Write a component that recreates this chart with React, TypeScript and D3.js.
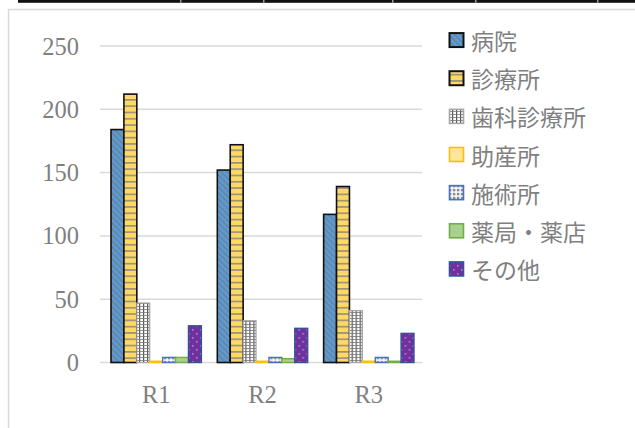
import React from 'react';
import * as d3 from 'd3';

// Facility counts by region
const categories = ['R1', 'R2', 'R3'];
const seriesNames = ['病院', '診療所', '歯科診療所', '助産所', '施術所', '薬局・薬店', 'その他'];
const hospital = [184, 152, 117];
const clinic = [212, 172, 139];
const dental = [47, 33, 41];
const midwife = [1, 1, 1];
const therapy = [4, 4, 4];
const pharmacy = [4, 3, 1];
const other = [29, 27, 23];
const yTicks = [0, 50, 100, 150, 200, 250];

const seriesValues = [hospital, clinic, dental, midwife, therapy, pharmacy, other];

const seriesStyle = [
  { fill: 'url(#pHospital)', stroke: '#111', sw: 1.6 },
  { fill: 'url(#pClinic)', stroke: '#111', sw: 1.6 },
  { fill: 'url(#pDental)', stroke: '#a6a6a6', sw: 1.2 },
  { fill: '#FFE699', stroke: '#FFC000', sw: 1.4 },
  { fill: 'url(#pTherapy)', stroke: '#4472C4', sw: 1.4 },
  { fill: '#A9D18E', stroke: '#70AD47', sw: 1.4 },
  { fill: 'url(#pOther)', stroke: '#2F5597', sw: 1.4 },
];

const W = 635;
const H = 428;
const TEXT = '#7f7f7f';

export default function App() {
  const y = d3.scaleLinear().domain([0, 250]).range([362.5, 46]);
  const x0 = d3.scaleBand().domain(categories).range([102.5, 422.5]).paddingInner(0.15).paddingOuter(0.08);
  const x1 = d3.scaleBand().domain(seriesNames).range([0, x0.bandwidth()]);

  const legendY = d3.scaleBand().domain(seriesNames).range([21, 288]);

  const topSeparators = [180, 263, 392, 475, 597];

  return (
    <div style={{ position: 'fixed', left: 0, top: 0 }}>
      <svg width={W} height={H} style={{ display: 'block', background: '#fff' }}>
        <defs>
          <pattern id="pHospital" patternUnits="userSpaceOnUse" width="6" height="6">
            <rect width="6" height="6" fill="#5B9BD5" />
            <path d="M-1,-1 L7,7 M-4,2 L2,8 M2,-4 L8,2" stroke="#6f7883" strokeWidth="1.1" />
          </pattern>
          <pattern id="pClinic" patternUnits="userSpaceOnUse" width="8" height="6.3">
            <rect width="8" height="6.3" fill="#FFD966" />
            <rect y="4.6" width="8" height="1.5" fill="#8f8a7a" />
          </pattern>
          <pattern id="pDental" patternUnits="userSpaceOnUse" width="4" height="3">
            <rect width="4" height="3" fill="#ffffff" />
            <rect x="0" y="0" width="1.2" height="3" fill="#555" />
            <rect x="0" y="0" width="4" height="0.8" fill="#777" />
          </pattern>
          <pattern id="pTherapy" patternUnits="userSpaceOnUse" width="4" height="4">
            <rect width="4" height="4" fill="#ffffff" />
            <rect x="0.8" y="0.8" width="2.6" height="2.6" fill="#8c8c8c" />
          </pattern>
          <pattern id="pOther" patternUnits="userSpaceOnUse" width="8" height="8">
            <rect width="8" height="8" fill="#7030A0" />
            <rect x="1" y="1" width="1.6" height="1.6" fill="#a88fb8" />
            <rect x="5" y="5" width="1.6" height="1.6" fill="#a88fb8" />
          </pattern>
        </defs>

        {/* table rule above the chart */}
        <rect x={18} y={0} width={W - 18} height={2.8} fill="#111" />
        {topSeparators.map((sx) => (
          <rect key={sx} x={sx} y={0} width={1.5} height={2.8} fill="#9a9a9a" />
        ))}

        {/* chart area frame */}
        <rect x={8.5} y={9.5} width={700} height={500} fill="none" stroke="#d9d9d9" strokeWidth={1.5} />

        {/* gridlines */}
        {yTicks.map((t) => (
          <line key={t} x1={100} x2={422} y1={y(t)} y2={y(t)} stroke="#d9d9d9" strokeWidth={1.5} />
        ))}

        {/* y tick labels */}
        {yTicks.map((t) => (
          <text
            key={t}
            x={79}
            y={y(t)}
            textAnchor="end"
            dominantBaseline="central"
            fontFamily="'Liberation Serif', 'DejaVu Serif', serif"
            fontSize={24.5}
            fill={TEXT}
          >
            {t}
          </text>
        ))}

        {/* bars */}
        {categories.map((c, ci) => (
          <g key={c} transform={`translate(${x0(c)},0)`}>
            {seriesNames.map((s, si) => {
              const v = seriesValues[si][ci];
              const st = seriesStyle[si];
              return (
                <rect
                  key={s}
                  x={x1(s)}
                  y={y(v)}
                  width={x1.bandwidth()}
                  height={y(0) - y(v)}
                  fill={st.fill}
                  stroke={st.stroke}
                  strokeWidth={st.sw}
                />
              );
            })}
          </g>
        ))}

        {/* x category labels */}
        {categories.map((c) => (
          <text
            key={c}
            x={(x0(c) as number) + x0.bandwidth() / 2}
            y={403}
            textAnchor="middle"
            fontFamily="'Liberation Serif', 'DejaVu Serif', serif"
            fontSize={24.5}
            fill={TEXT}
          >
            {c}
          </text>
        ))}

        {/* legend */}
        {seriesNames.map((s, si) => {
          const st = seriesStyle[si];
          const cy = (legendY(s) as number) + legendY.bandwidth() / 2;
          return (
            <g key={s}>
              <rect
                x={449.5}
                y={cy - 7}
                width={14}
                height={14}
                fill={st.fill}
                stroke={st.stroke}
                strokeWidth={si < 2 ? 2 : 1.6}
              />
              <text
                x={471}
                y={cy}
                dominantBaseline="central"
                fontFamily="'Noto Sans CJK JP', 'Noto Sans', sans-serif"
                fontSize={23}
                fill={TEXT}
              >
                {s}
              </text>
            </g>
          );
        })}
      </svg>
    </div>
  );
}
